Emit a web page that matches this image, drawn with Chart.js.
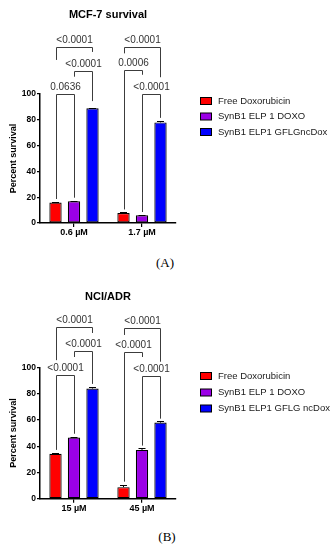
<!DOCTYPE html>
<html>
<head>
<meta charset="utf-8">
<script src="https://cdn.jsdelivr.net/npm/chart.js@4.4.0/dist/chart.umd.min.js"></script>
<style>
body{margin:0;background:#fff;width:335px;height:550px;position:relative;overflow:hidden}
canvas{position:absolute;left:0}
#cA{top:0}
#cB{top:272px}
.tag{position:absolute;font-family:"Liberation Serif","Times New Roman",serif;font-size:13px;color:#000;transform:translate(-50%,-50%)}
</style>
</head>
<body>
<canvas id="cA" width="335" height="250"></canvas>
<canvas id="cB" width="335" height="250"></canvas>
<div class="tag" style="left:165px;top:263px">(A)</div>
<div class="tag" style="left:167px;top:537px">(B)</div>
<script>
// panel A - MCF-7
var catsA = ["0.6 µM", "1.7 µM"];
var freeA = [15.8, 7.8];
var elpA = [16.9, 6.0];
var gflgA = [88.9, 78.0];
var freeErrA = [0.5, 1.0];
var elpErrA = [0.5, 0.5];
var gflgErrA = [0.6, 1.0];
var namesA = ["Free Doxorubicin", "SynB1 ELP 1 DOXO", "SynB1 ELP1 GFLGncDox"];
// [group, bar from, bar to, bracket level, left leg end, right leg end, p value]
var bracketsA = [
	[0, 0, 2, 136.8, 126.4, 132.6, "<0.0001"],
	[0, 1, 2, 117.9, 113.4, 94.5, "<0.0001"],
	[0, 0, 1, 99.8, 18.6, 19.6, "0.0636"],
	[1, 0, 2, 136.8, 131.5, 113, "<0.0001"],
	[1, 0, 1, 118.6, 10.5, 114.9, "0.0006"],
	[1, 1, 2, 99.8, 8.5, 81.5, "<0.0001"]
];

// panel B - NCI/ADR
var catsB = ["15 µM", "45 µM"];
var freeB = [34.2, 8.8];
var elpB = [46.6, 37.2];
var gflgB = [84.0, 58.0];
var freeErrB = [0.8, 2.0];
var elpErrB = [0.8, 1.2];
var gflgErrB = [1.5, 1.2];
var namesB = ["Free Doxorubicin", "SynB1 ELP 1 DOXO", "SynB1 ELP1 GFLG ncDox"];
var bracketsB = [
	[0, 0, 2, 130.6, 105.6, 126.3, "<0.0001"],
	[0, 1, 2, 112.6, 108, 87.5, "<0.0001"],
	[0, 0, 1, 94.3, 37.2, 49.5, "<0.0001"],
	[1, 0, 2, 129.9, 124.8, 104.4, "<0.0001"],
	[1, 0, 1, 112, 13, 108, "<0.0001"],
	[1, 1, 2, 93.5, 40.5, 61, "<0.0001"]
];

var colors = ["#ff0000", "#9b00e6", "#0000ff"];
var sans = '"Liberation Sans", Arial, sans-serif';

var extras = {
	id: 'extras',
	afterDatasetsDraw: function(chart) {
		var ctx = chart.ctx, y = chart.scales.y, o = chart.options.plugins.extras;
		ctx.save();
		// error bars
		ctx.strokeStyle = '#000';
		ctx.lineWidth = 1;
		chart.data.datasets.forEach(function(ds, d) {
			chart.getDatasetMeta(d).data.forEach(function(bar, i) {
				var top = Math.round(y.getPixelForValue(ds.data[i] + o.errors[d][i])) + 0.5;
				ctx.beginPath();
				ctx.moveTo(bar.x, bar.y);
				ctx.lineTo(bar.x, top);
				ctx.moveTo(bar.x - 3.5, top);
				ctx.lineTo(bar.x + 3.5, top);
				ctx.stroke();
			});
		});
		// significance brackets
		ctx.strokeStyle = '#3c3c3c';
		ctx.fillStyle = '#333';
		ctx.font = '10px ' + sans;
		ctx.textAlign = 'center';
		ctx.textBaseline = 'bottom';
		o.brackets.forEach(function(b) {
			var x1 = Math.round(chart.getDatasetMeta(b[1]).data[b[0]].x) + 0.5;
			var x2 = Math.round(chart.getDatasetMeta(b[2]).data[b[0]].x) + 0.5;
			var yl = Math.round(y.getPixelForValue(b[3])) + 0.5;
			ctx.beginPath();
			ctx.moveTo(x1, y.getPixelForValue(b[4]));
			ctx.lineTo(x1, yl);
			ctx.lineTo(x2, yl);
			ctx.lineTo(x2, y.getPixelForValue(b[5]));
			ctx.stroke();
			ctx.fillText(b[6], (x1 + x2) / 2, yl - 2);
		});
		// legend
		ctx.textAlign = 'left';
		ctx.textBaseline = 'middle';
		ctx.font = '9.5px ' + sans;
		chart.data.datasets.forEach(function(ds, d) {
			var cy = o.legendY[d];
			ctx.fillStyle = ds.backgroundColor;
			ctx.fillRect(200.5, cy - 3.5, 11, 7);
			ctx.strokeStyle = '#000';
			ctx.strokeRect(200.5, cy - 3.5, 11, 7);
			ctx.fillStyle = '#1a1a1a';
			ctx.fillText(ds.label, 218, cy);
		});
		ctx.restore();
	}
};

function makeChart(id, cats, series, errors, names, brackets, title, titlePad, xHeight, legendY) {
	var datasets = [];
	for (var i = 0; i < series.length; i++) {
		datasets.push({
			label: names[i],
			data: series[i],
			backgroundColor: colors[i],
			borderColor: "#000",
			borderWidth: 1.2,
			borderSkipped: false,
			categoryPercentage: 0.816,
			barPercentage: 0.665
		});
	}
	return new Chart(document.getElementById(id), {
		type: 'bar',
		data: { labels: cats, datasets: datasets },
		plugins: [extras],
		options: {
			responsive: false,
			animation: false,
			devicePixelRatio: 1,
			layout: { padding: { left: 0, right: 159, top: 0, bottom: 0 } },
			plugins: {
				legend: { display: false },
				tooltip: { enabled: false },
				title: {
					display: true,
					text: title,
					fullSize: false,
					color: '#000',
					font: { family: sans, size: 11, weight: 'bold', lineHeight: 1.2 },
					padding: titlePad
				},
				extras: { errors: errors, brackets: brackets, legendY: legendY }
			},
			scales: {
				x: {
					afterFit: function(s) { s.height = xHeight; },
					grid: { display: true, offset: false, drawOnChartArea: false, drawTicks: true, tickLength: 4, color: '#000', lineWidth: 1.2 },
					border: { color: '#000', width: 1.5 },
					ticks: { color: '#000', padding: 0, font: { family: sans, size: 9, weight: 'bold' } }
				},
				y: {
					min: 0,
					max: 100,
					afterFit: function(s) { s.width = 40; },
					grid: { display: true, drawOnChartArea: false, drawTicks: true, tickLength: 3, color: '#000', lineWidth: 1.2 },
					border: { color: '#000', width: 1.5 },
					ticks: { stepSize: 20, color: '#000', padding: 1, font: { family: sans, size: 8.5, weight: 'bold' } },
					title: {
						display: true,
						text: 'Percent survival',
						color: '#000',
						padding: { top: 8, bottom: 0 },
						font: { family: sans, size: 9, weight: 'bold', lineHeight: 1.2 }
					}
				}
			}
		}
	});
}

makeChart('cA', catsA, [freeA, elpA, gflgA], [freeErrA, elpErrA, gflgErrA], namesA, bracketsA,
	'MCF-7 survival', { top: 8.4, bottom: 72.4 }, 27, [101, 116.5, 132]);
makeChart('cB', catsB, [freeB, elpB, gflgB], [freeErrB, elpErrB, gflgErrB], namesB, bracketsB,
	'NCI/ADR', { top: 18.1, bottom: 64.2 }, 23.3, [104, 120.5, 136.5]);
</script>
</body>
</html>
